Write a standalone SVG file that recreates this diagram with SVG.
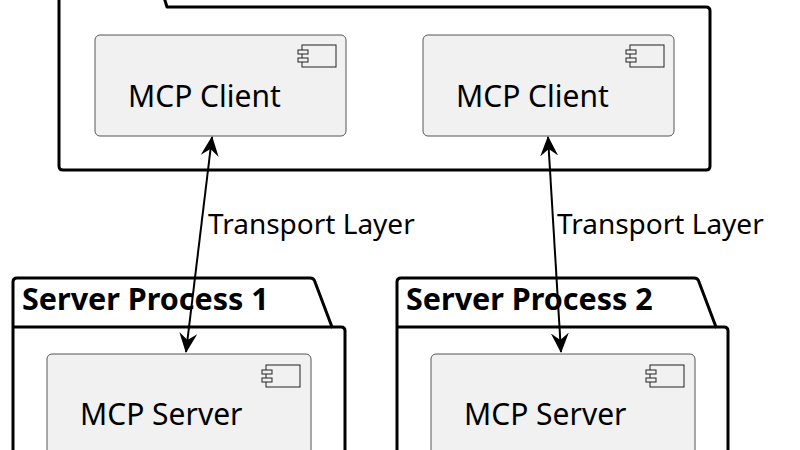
<svg xmlns="http://www.w3.org/2000/svg" width="800" height="450" viewBox="0 0 800 450">
<style>
.pkg{fill:#fff;stroke:#000;stroke-width:3;stroke-linejoin:round}
.comp{fill:#f1f1f1;stroke:#555;stroke-width:1}
.ic{fill:#f1f1f1;stroke:#222;stroke-width:1}
.t{font-family:"Noto Sans","DejaVu Sans",sans-serif;font-size:30px;fill:#000}
.b{font-family:"Noto Sans","DejaVu Sans",sans-serif;font-size:30.5px;font-weight:bold;fill:#000}
.l{font-family:"Noto Sans","DejaVu Sans",sans-serif;font-size:28px;fill:#000}
.c{stroke:#000;stroke-width:2;fill:none}
</style>
<defs>
<marker id="ah" viewBox="0 0 20 20" refX="19" refY="10" markerWidth="20" markerHeight="20" orient="auto-start-reverse" markerUnits="userSpaceOnUse">
<path d="M0,1 L20,10 L0,19 L7,10 Z" fill="#000"/>
</marker>
<g id="icon"><rect class="ic" x="4" y="0" width="34" height="22"/><rect class="ic" x="0" y="5" width="10" height="4"/><rect class="ic" x="0" y="13" width="10" height="4"/></g>
</defs>
<g id="host">
<path class="pkg" d="M59,-20 L155,-20 Q159,-20 160,-16 L167,7 L706,7 Q710,7 710,11 L710,166 Q710,170 706,170 L63,170 Q59,170 59,166 Z"/>
</g>
<g id="client1"><rect class="comp" x="95" y="35" width="251" height="101" rx="5"/><use href="#icon" x="298" y="45"/><text class="t" x="128" y="107">MCP Client</text></g>
<g id="client2"><rect class="comp" x="423" y="35" width="251" height="101" rx="5"/><use href="#icon" x="626" y="45"/><text class="t" x="456" y="107">MCP Client</text></g>
<g id="proc1">
<path class="pkg" d="M13,460 L13,282 Q13,278 17,278 L310,278 Q314,278 315,282 L332,327 L341,327 Q345,327 345,331 L345,460"/>
<line x1="13" y1="327" x2="332" y2="327" stroke="#000" stroke-width="3"/>
<text class="b" x="22" y="310">Server Process 1</text>
</g>
<g id="server1"><rect class="comp" x="47" y="354" width="264" height="110" rx="5"/><use href="#icon" x="262" y="365"/><text class="t" x="80" y="425">MCP Server</text></g>
<g id="proc2">
<path class="pkg" d="M397,460 L397,282 Q397,278 401,278 L694,278 Q698,278 699,282 L716,327 L724,327 Q728,327 728,331 L728,460"/>
<line x1="397" y1="327" x2="716" y2="327" stroke="#000" stroke-width="3"/>
<text class="b" x="406" y="310">Server Process 2</text>
</g>
<g id="server2"><rect class="comp" x="431" y="354" width="264" height="110" rx="5"/><use href="#icon" x="646" y="365"/><text class="t" x="464" y="425">MCP Server</text></g>
<g id="connectors">
<line class="c" x1="212" y1="137" x2="186" y2="352" marker-start="url(#ah)" marker-end="url(#ah)"/>
<text class="l" x="208" y="234">Transport Layer</text>
<line class="c" x1="548" y1="137" x2="561" y2="352" marker-start="url(#ah)" marker-end="url(#ah)"/>
<text class="l" x="557" y="234">Transport Layer</text>
</g>
</svg>
